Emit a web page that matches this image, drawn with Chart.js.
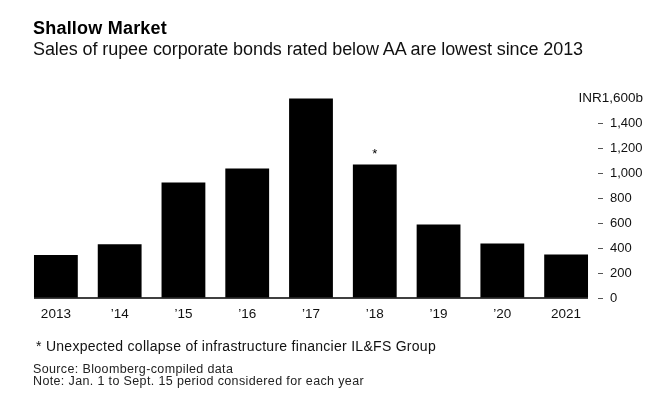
<!DOCTYPE html>
<html>
<head>
<meta charset="utf-8">
<script src="https://cdn.jsdelivr.net/npm/chart.js@4"></script>
<style>
body { margin: 0; background: #fff; font-family: "Liberation Sans", Arial, sans-serif; color: #000; }
#wrap { position: relative; width: 657px; height: 397px; overflow: hidden; }
canvas { position: absolute; left: 0; top: 0; }
.t { position: absolute; white-space: nowrap; line-height: 1; }
</style>
</head>
<body>
<div id="wrap">
  <canvas id="chart" width="657" height="397"></canvas>
  <div class="t" data-w="134" style="left:33px;top:19px;font-size:18px;font-weight:bold">Shallow Market</div>
  <div class="t" data-w="550" style="left:33px;top:39.5px;font-size:18px;color:#111">Sales of rupee corporate bonds rated below AA are lowest since 2013</div>
  <div class="t" data-w="400" style="left:36px;top:339px;font-size:14px;color:#111">* Unexpected collapse of infrastructure financier IL&amp;FS Group</div>
  <div class="t" id="src" style="left:33px;top:362.7px;font-size:12.5px;color:#222">Source: Bloomberg-compiled data</div>
  <div class="t" id="note" data-w="331" style="left:33px;top:375px;font-size:12.5px;color:#222">Note: Jan. 1 to Sept. 15 period considered for each year</div>
</div>
<script>
const years = ['2013', '\u201914', '\u201915', '\u201916', '\u201917', '\u201918', '\u201919', '\u201920', '2021'];
const sales = [344, 430, 925, 1037, 1597, 1069, 589, 437, 349];
const notes = ['', '', '', '', '', '*', '', '', ''];
const yMax = 1600;
const yStep = 200;
const unitLabel = 'INR1,600b';

// stretch the html text lines to the widths seen in the original
document.querySelectorAll('.t[data-w]').forEach((el) => {
  const w = el.getBoundingClientRect().width;
  el.style.letterSpacing = ((+el.dataset.w - w) / el.textContent.length) + 'px';
});
document.getElementById('src').style.letterSpacing = document.getElementById('note').style.letterSpacing;

// baseline under the bars, the footnote marks and the unit label at the top tick
const extras = {
  id: 'extras',
  afterDatasetsDraw(chart) {
    const ctx = chart.ctx;
    const bars = chart.getDatasetMeta(0).data;
    const y = chart.scales.y;
    const y0 = y.getPixelForValue(0);
    ctx.save();
    ctx.strokeStyle = '#000';
    ctx.lineWidth = 1.5;
    ctx.beginPath();
    ctx.moveTo(bars[0].x - bars[0].width / 2, y0);
    ctx.lineTo(bars[bars.length - 1].x + bars[bars.length - 1].width / 2, y0);
    ctx.stroke();

    ctx.fillStyle = '#000';
    ctx.font = '13px "Liberation Sans", Arial, sans-serif';
    ctx.textAlign = 'center';
    ctx.textBaseline = 'bottom';
    bars.forEach((b, i) => {
      if (notes[i]) ctx.fillText(notes[i], b.x, b.y - 3);
    });

    ctx.textAlign = 'right';
    ctx.textBaseline = 'middle';
    ctx.fillStyle = '#111';
    ctx.font = '13.5px "Liberation Sans", Arial, sans-serif';
    ctx.fillText(unitLabel, 643, y.getPixelForValue(yMax));
    ctx.restore();
  }
};

new Chart(document.getElementById('chart'), {
  type: 'bar',
  data: {
    labels: years,
    datasets: [{
      data: sales,
      backgroundColor: '#000',
      barPercentage: 0.687,
      categoryPercentage: 1
    }]
  },
  options: {
    responsive: false,
    animation: false,
    layout: { padding: { top: 98, left: 24, right: 0, bottom: 0 } },
    plugins: { legend: { display: false }, tooltip: { enabled: false } },
    scales: {
      x: {
        grid: { display: false, drawTicks: false },
        border: { display: false },
        ticks: { color: '#111', padding: 8, font: { size: 13.5, family: '"Liberation Sans", Arial, sans-serif' } },
        afterFit(s) { s.height = 99; }
      },
      y: {
        position: 'right',
        min: 0,
        max: yMax,
        grid: {
          drawOnChartArea: false,
          tickLength: 5,
          tickColor: (c) => (c.tick && c.tick.value === yMax ? 'rgba(0,0,0,0)' : '#555')
        },
        border: { display: false },
        ticks: {
          stepSize: yStep,
          padding: 7,
          crossAlign: 'near',
          color: '#111',
          font: { size: 13, family: '"Liberation Sans", Arial, sans-serif' },
          callback: (v) => (v === yMax ? '' : v.toLocaleString('en-US'))
        },
        afterFit(s) { s.width = 59; }
      }
    }
  },
  plugins: [extras]
});
</script>
</body>
</html>
